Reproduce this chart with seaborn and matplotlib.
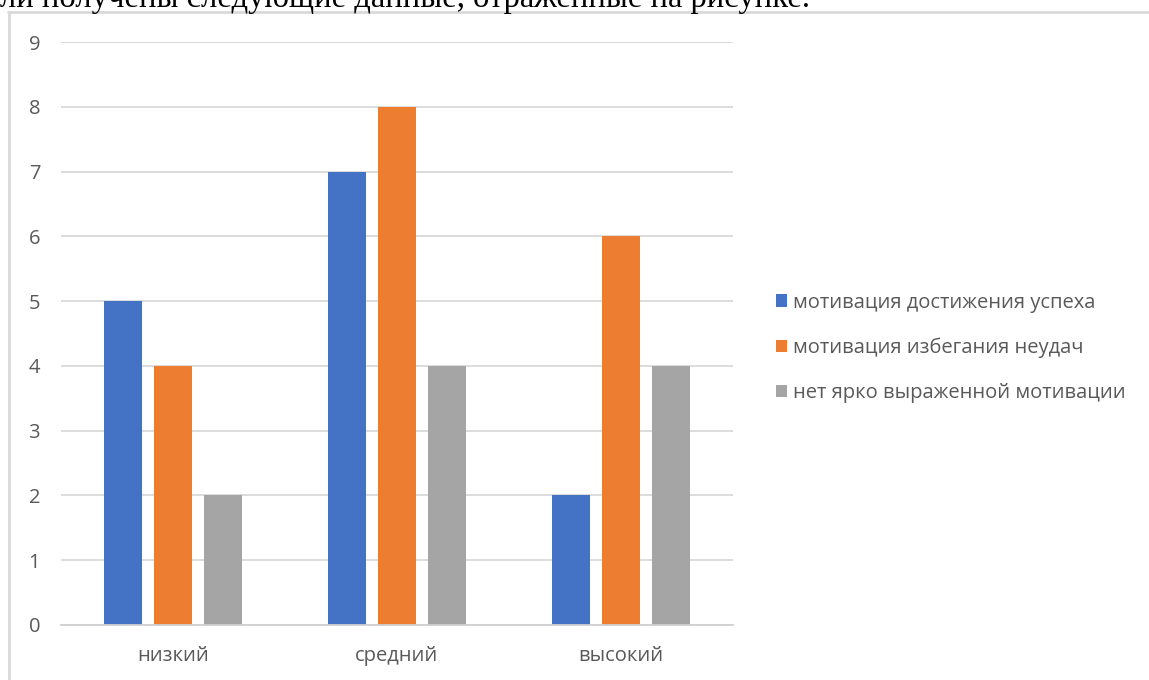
import matplotlib
matplotlib.use("Agg")
import matplotlib.pyplot as plt
import seaborn as sns
import pandas as pd
from matplotlib.patches import Rectangle
from matplotlib.lines import Line2D

categories = ["низкий", "средний", "высокий"]
series_names = ["мотивация достижения успеха", "мотивация избегания неудач", "нет ярко выраженной мотивации"]
achievement = [5, 7, 2]
avoidance = [4, 8, 6]
none_expr = [2, 4, 4]
colors = ["#4472C4", "#ED7D31", "#A5A5A5"]
yticks = list(range(0, 10))
caption = "ли получены следующие данные, отраженные на рисунке."

rows = []
for name, vals in zip(series_names, [achievement, avoidance, none_expr]):
    for c, v in zip(categories, vals):
        rows.append({"cat": c, "series": name, "value": v})
df = pd.DataFrame(rows)

sns.set_theme(style="white")
plt.rcParams['font.family'] = ['Open Sans', 'DejaVu Sans']

W, H = 1149, 680
fig = plt.figure(figsize=(W / 100, H / 100), dpi=100)
ax = fig.add_axes([61 / W, (H - 625) / H, (733 - 61) / W, (625 - 42) / H])

sns.barplot(data=df, x="cat", y="value", hue="series", order=categories,
            hue_order=series_names, palette=colors, width=0.67, gap=0.24,
            saturation=1, ax=ax, legend=False, errorbar=None, linewidth=0)

ax.set_ylim(0, 9)
ax.set_xlim(-0.5, 2.5)
ax.set_yticks(yticks)
ax.set_yticklabels([str(t) for t in yticks])
ax.yaxis.grid(True, color="#D9D9D9", linewidth=1.3)
ax.set_axisbelow(True)
ax.set_xlabel("")
ax.set_ylabel("")
for s in ["top", "right", "left"]:
    ax.spines[s].set_visible(False)
ax.spines["bottom"].set_color("#D0D0D0")
ax.spines["bottom"].set_linewidth(1.3)
ax.tick_params(axis="y", length=0, pad=15, labelsize=14.5, labelcolor="#595959")
ax.tick_params(axis="x", length=0, pad=15, labelsize=14.5, labelcolor="#595959")
# category boundary ticks
ax.set_xticks([-0.5, 0.5, 1.5, 2.5], minor=True)
ax.tick_params(axis="x", which="minor", length=7, width=1.3, color="#D0D0D0", direction="out")

handles = [Rectangle((0, 0), 1, 1, facecolor=c, edgecolor="none") for c in colors]
leg = fig.legend(handles, series_names, loc="center left",
                 bbox_to_anchor=(776 / W, (H - 348) / H), frameon=False,
                 borderpad=0, borderaxespad=0,
                 fontsize=14.5, labelcolor="#595959", handlelength=0.55,
                 handleheight=0.55, handletextpad=0.3, labelspacing=1.25)

# outer chart border
fig.add_artist(Line2D([7.5 / W, 1.0], [(H - 12) / H, (H - 12) / H], color="#D9D9D9", linewidth=2))
fig.add_artist(Line2D([8.5 / W, 8.5 / W], [0, (H - 12) / H], color="#D9D9D9", linewidth=2))

fig.text(0.0, (H - 7) / H, caption, fontsize=23.5, family=['Liberation Serif'],
         color="black", va="baseline", ha="left")

fig.savefig("out.png", dpi=100)
